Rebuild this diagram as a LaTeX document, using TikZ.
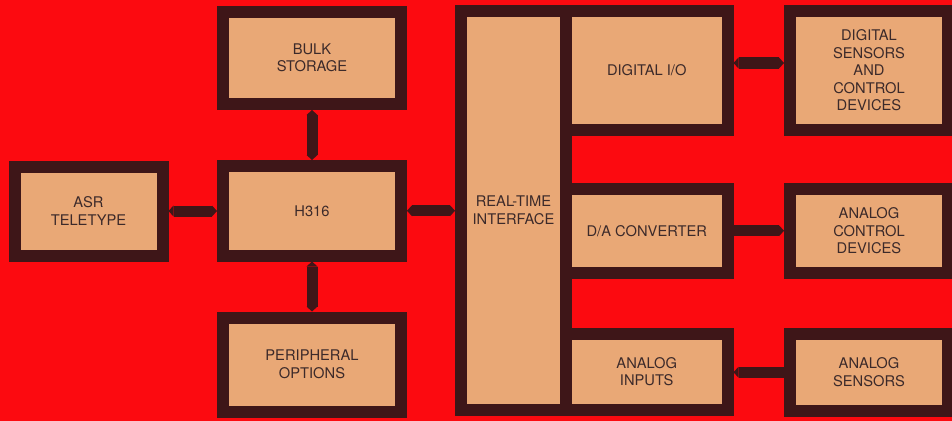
\documentclass[tikz,border=0pt]{standalone}
\usepackage{fontspec}
\setmainfont{TeX Gyre Heros}
\usetikzlibrary{arrows.meta,calc}
\definecolor{bgred}{RGB}{252,10,16}
\definecolor{boxtan}{RGB}{233,168,118}
\definecolor{darkframe}{RGB}{62,22,24}
\definecolor{txtcol}{RGB}{60,42,42}
\tikzset{
  blk/.style={draw=darkframe, fill=boxtan, line width=12pt, inner sep=0pt,
    align=center, text=txtcol, font=\fontsize{14.7}{17.5}\selectfont},
  link/.style={line width=11pt, draw=darkframe,
    >={Triangle[width=11pt,length=5pt,line width=0pt]}},
}
\begin{document}
\begin{tikzpicture}[x=1pt,y=-1pt]
\useasboundingbox (0,0) rectangle (952,420);
\fill[bgred] (-3,-3) rectangle (955,423);
% left column
\node[blk, minimum width=148pt, minimum height=89pt] (asr) at (88.5,211) {ASR\\TELETYPE};
\node[blk, minimum width=178pt, minimum height=89.5pt] (cpu) at (312,210.75) {H316};
\node[blk, minimum width=178pt, minimum height=92pt] (bulk) at (312,58) {BULK\\STORAGE};
\node[blk, minimum width=178pt, minimum height=94pt] (peri) at (312,364.5) {PERIPHERAL\\OPTIONS};
% interface block
\node[blk, minimum width=105pt, minimum height=398pt] (rti) at (513.5,210.5) {REAL-TIME\\INTERFACE};
\node[blk, minimum width=161.5pt, minimum height=118pt] (dio) at (646.75,70.5) {DIGITAL I/O};
\node[blk, minimum width=161.5pt, minimum height=83.5pt] (dac) at (646.75,230.75) {D/A CONVERTER};
\node[blk, minimum width=161.5pt, minimum height=75.5pt] (ain) at (646.75,371.75) {ANALOG\\INPUTS};
% right column
\node[blk, minimum width=158pt, minimum height=118pt] (dsen) at (869,70.5) {DIGITAL\\SENSORS\\AND\\CONTROL\\DEVICES};
\node[blk, minimum width=158pt, minimum height=83.5pt] (actl) at (869,230.75) {ANALOG\\CONTROL\\DEVICES};
\node[blk, minimum width=158pt, minimum height=76.5pt] (asen) at (869,372.25) {ANALOG\\SENSORS};
% connectors
\draw[link,<->] (asr.east) -- (asr.east -| cpu.west);
\draw[link,<->] (cpu.east) -- (cpu.east -| rti.west);
\draw[link,<->] (bulk.south) -- (cpu.north);
\draw[link,<->] (cpu.south) -- (peri.north);
\coordinate (dioR) at ([yshift=7.5pt]dio.east);
\draw[link,<->] (dioR) -- (dioR -| dsen.west);
\draw[link,->] (dac.east) -- (dac.east -| actl.west);
\draw[link,->] (asen.west) -- (asen.west -| ain.east);
\end{tikzpicture}
\end{document}
